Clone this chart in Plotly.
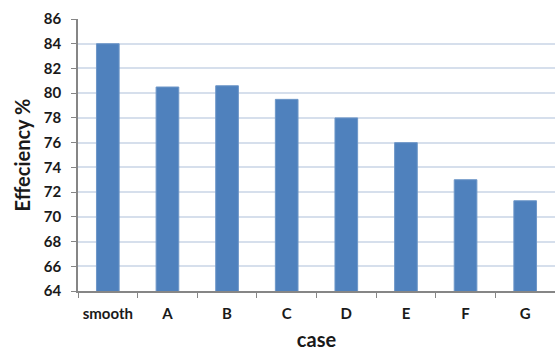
import plotly.graph_objects as go

# Efficiency per case
cases = ["smooth", "A", "B", "C", "D", "E", "F", "G"]
efficiency = [84.0, 80.5, 80.6, 79.5, 78.0, 76.0, 73.0, 71.3]
y_ticks = [64, 66, 68, 70, 72, 74, 76, 78, 80, 82, 84, 86]

font_family = "Lato, 'Open Sans', sans-serif"

fig = go.Figure(
    go.Bar(
        x=cases,
        y=efficiency,
        marker=dict(color="#4F81BD", line=dict(color="#6E97C8", width=1)),
        width=0.38,
    )
)

fig.update_layout(
    width=555,
    height=351,
    margin=dict(l=78, r=0, t=19, b=60),
    paper_bgcolor="white",
    plot_bgcolor="white",
    showlegend=False,
    font=dict(family=font_family, color="#1a1a1a"),
)

fig.update_xaxes(
    type="category",
    tickson="boundaries",
    ticks="outside",
    ticklen=5,
    tickcolor="#868686",
    showline=True,
    linecolor="#868686",
    linewidth=1.5,
    tickfont=dict(size=15, family=font_family, weight="bold"),
    ticklabelstandoff=8,
    title=dict(text="<b>case</b>", font=dict(size=20, family=font_family), standoff=13),
    showgrid=False,
    automargin=False,
)

fig.update_yaxes(
    range=[64, 86],
    tickvals=y_ticks,
    ticks="outside",
    ticklen=5,
    tickcolor="#868686",
    showline=True,
    linecolor="#868686",
    linewidth=1.5,
    showgrid=True,
    gridcolor="#D6DFEC",
    gridwidth=1.5,
    tickfont=dict(size=15, family=font_family, weight="bold"),
    ticklabelstandoff=7,
    title=dict(text="<b>Effeciency %</b>", font=dict(size=20, family=font_family), standoff=8),
    zeroline=False,
    automargin=False,
)

fig.write_html("out.html")
